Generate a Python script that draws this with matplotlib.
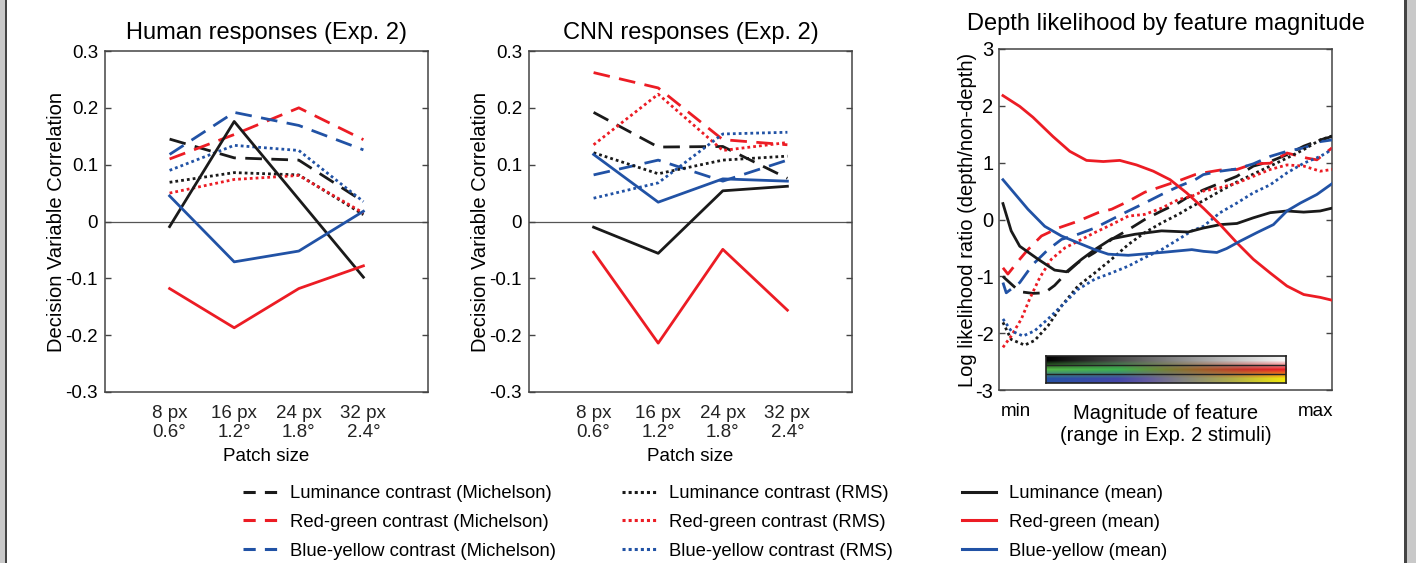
import numpy as np
import matplotlib
matplotlib.use("Agg")
import matplotlib.pyplot as plt
from matplotlib.lines import Line2D
from matplotlib.patches import Rectangle

plt.rcParams['font.family'] = ['Liberation Sans', 'DejaVu Sans']
plt.rcParams['axes.unicode_minus'] = False

# ---------------- data ----------------
patch_pos = [1, 2, 3, 4]
patch_labels = ["8 px\n0.6°", "16 px\n1.2°", "24 px\n1.8°", "32 px\n2.4°"]

# Human responses (Exp. 2)
human_lum_mich = [0.145, 0.112, 0.108, 0.035]
human_rg_mich = [0.110, 0.153, 0.200, 0.144]
human_by_mich = [0.118, 0.192, 0.169, 0.126]
human_lum_rms = [0.069, 0.086, 0.082, 0.012]
human_rg_rms = [0.050, 0.074, 0.081, 0.015]
human_by_rms = [0.090, 0.134, 0.125, 0.035]
human_lum_mean = [-0.009, 0.176, 0.039, -0.098]
human_rg_mean = [-0.118, -0.187, -0.118, -0.078]
human_by_mean = [0.045, -0.071, -0.052, 0.018]

# CNN responses (Exp. 2)
cnn_lum_mich = [0.192, 0.131, 0.132, 0.076]
cnn_rg_mich = [0.262, 0.235, 0.144, 0.135]
cnn_by_mich = [0.082, 0.108, 0.071, 0.108]
cnn_lum_rms = [0.121, 0.084, 0.108, 0.115]
cnn_rg_rms = [0.135, 0.224, 0.125, 0.139]
cnn_by_rms = [0.041, 0.068, 0.154, 0.157]
cnn_lum_mean = [-0.010, -0.056, 0.054, 0.062]
cnn_rg_mean = [-0.054, -0.214, -0.049, -0.156]
cnn_by_mean = [0.118, 0.034, 0.075, 0.071]

# Depth likelihood by feature magnitude (x: % of magnitude range)
lr_lum_mean_x = [0, 2.5, 5.1, 10.7, 15.7, 19.3, 23.9, 27.9, 33.0, 40.1, 48.2, 56.3, 60.9, 66.0, 71.1, 76.1, 81.2, 86.3, 91.4, 96.4, 100]
lr_lum_mean_y = [0.28, -0.20, -0.47, -0.70, -0.89, -0.92, -0.70, -0.53, -0.34, -0.26, -0.20, -0.22, -0.15, -0.09, -0.07, 0.03, 0.12, 0.15, 0.13, 0.15, 0.20]
lr_rg_mean_x = [0, 5.1, 9.1, 15.2, 20.3, 25.4, 30.5, 35.5, 40.6, 45.7, 50.8, 55.8, 60.9, 66.0, 71.1, 76.1, 81.2, 86.3, 91.4, 96.4, 100]
lr_rg_mean_y = [2.18, 1.99, 1.80, 1.46, 1.20, 1.04, 1.02, 1.04, 0.96, 0.85, 0.70, 0.47, 0.20, -0.09, -0.41, -0.70, -0.94, -1.17, -1.32, -1.37, -1.42]
lr_by_mean_x = [0, 7.6, 12.7, 17.8, 22.8, 27.9, 32.0, 38.1, 48.2, 57.4, 60.9, 65.0, 68.0, 72.1, 77.2, 82.2, 86.3, 90.4, 95.4, 100]
lr_by_mean_y = [0.70, 0.18, -0.12, -0.29, -0.41, -0.53, -0.61, -0.63, -0.58, -0.53, -0.56, -0.58, -0.51, -0.38, -0.23, -0.09, 0.15, 0.29, 0.44, 0.63]

lr_lum_mich_x = [0, 0.5, 5.1, 9.1, 12.7, 15.7, 19.3, 22.8, 27.9, 33.0, 38.1, 43.1, 48.2, 53.3, 55.8, 60.9, 66.0, 71.1, 76.1, 81.2, 86.3, 91.4, 96.4, 100]
lr_lum_mich_y = [-1.00, -1.03, -1.27, -1.30, -1.29, -1.16, -0.94, -0.76, -0.58, -0.35, -0.18, 0.0, 0.15, 0.29, 0.38, 0.52, 0.64, 0.76, 0.94, 1.02, 1.14, 1.29, 1.40, 1.46]
lr_rg_mich_x = [0, 1.5, 5.1, 7.6, 11.7, 16.8, 22.8, 28.9, 33.0, 38.1, 43.1, 48.2, 54.3, 58.4, 60.9, 66.0, 71.1, 76.1, 81.2, 86.3, 92.4, 95.4, 100]
lr_rg_mich_y = [-0.85, -0.96, -0.70, -0.53, -0.29, -0.15, -0.03, 0.12, 0.18, 0.32, 0.48, 0.58, 0.70, 0.79, 0.82, 0.87, 0.88, 0.98, 0.99, 1.17, 1.08, 1.05, 1.26]
lr_by_mich_x = [0, 1.0, 5.1, 9.1, 13.7, 17.8, 22.8, 27.9, 33.0, 38.1, 43.1, 48.2, 53.3, 58.4, 60.9, 66.0, 71.1, 76.1, 81.2, 86.3, 91.4, 96.4, 100]
lr_by_mich_y = [-1.11, -1.29, -1.11, -0.79, -0.53, -0.35, -0.26, -0.15, 0.0, 0.15, 0.29, 0.44, 0.58, 0.70, 0.79, 0.85, 0.89, 0.98, 1.11, 1.20, 1.26, 1.37, 1.40]

lr_lum_rms_x = [0, 2.5, 6.6, 9.6, 13.7, 17.8, 22.8, 27.9, 33.0, 38.1, 43.1, 48.2, 53.3, 57.4, 60.9, 66.0, 71.1, 76.1, 81.2, 86.3, 91.4, 96.4, 100]
lr_lum_rms_y = [-1.81, -2.11, -2.21, -2.13, -1.87, -1.52, -1.17, -0.94, -0.70, -0.44, -0.23, -0.06, 0.09, 0.23, 0.33, 0.50, 0.66, 0.80, 0.94, 1.08, 1.23, 1.40, 1.47]
lr_rg_rms_x = [0, 2.5, 5.6, 8.1, 11.2, 14.7, 18.8, 23.9, 27.9, 33.0, 38.1, 43.1, 48.2, 53.3, 57.4, 60.9, 66.0, 71.1, 76.1, 81.2, 86.3, 91.4, 96.4, 100]
lr_rg_rms_y = [-2.25, -2.05, -1.75, -1.40, -1.02, -0.70, -0.50, -0.35, -0.23, -0.09, 0.06, 0.09, 0.20, 0.35, 0.41, 0.50, 0.56, 0.64, 0.76, 0.88, 0.96, 0.94, 0.85, 0.88]
lr_by_rms_x = [0, 2.5, 6.1, 9.6, 13.7, 17.8, 22.8, 27.9, 33.0, 38.1, 43.1, 48.2, 53.3, 57.4, 60.9, 66.0, 71.1, 76.1, 81.2, 86.3, 91.4, 96.4, 100]
lr_by_rms_y = [-1.75, -1.96, -2.05, -1.96, -1.75, -1.52, -1.23, -1.05, -0.94, -0.82, -0.67, -0.53, -0.35, -0.20, -0.12, 0.12, 0.29, 0.47, 0.61, 0.82, 0.99, 1.11, 1.23]

legend_labels = [
    "Luminance contrast (Michelson)", "Red-green contrast (Michelson)", "Blue-yellow contrast (Michelson)",
    "Luminance contrast (RMS)", "Red-green contrast (RMS)", "Blue-yellow contrast (RMS)",
    "Luminance (mean)", "Red-green (mean)", "Blue-yellow (mean)",
]

# ---------------- styles ----------------
BLACK = '#1a1a1a'
RED = '#ec1c24'
BLUE = '#2152a5'
DASH = (0, (6, 3.4))
DOT = (0, (1, 1.1))
LW = 2.0
FRAME = '#444444'

W, H = 1416, 563
fig = plt.figure(figsize=(W / 100, H / 100), dpi=100)

def px_axes(x0, y0, x1, y1):
    return fig.add_axes([x0 / W, 1 - y1 / H, (x1 - x0) / W, (y1 - y0) / H])

def style_box(ax):
    for s in ax.spines.values():
        s.set_color(FRAME)
        s.set_linewidth(1.1)
    ax.tick_params(axis='y', direction='in', length=4, width=1, color=FRAME,
                   left=True, right=True, labelsize=13.5, pad=5)

def corr_panel(ax, data, title):
    lm, rm, bm, lr, rr, br, lme, rme, bme = data
    ax.axhline(0, color='#555555', lw=0.9, zorder=1)
    for vals, c, ls in [(lm, BLACK, DASH), (rm, RED, DASH), (bm, BLUE, DASH),
                        (lr, BLACK, DOT), (rr, RED, DOT), (br, BLUE, DOT),
                        (lme, BLACK, '-'), (rme, RED, '-'), (bme, BLUE, '-')]:
        ax.plot(patch_pos, vals, color=c, ls=ls, lw=LW, zorder=3)
    ax.set_xlim(0, 5)
    ax.set_ylim(-0.3, 0.3)
    ax.set_yticks([-0.3, -0.2, -0.1, 0, 0.1, 0.2, 0.3])
    ax.set_yticklabels(["-0.3", "-0.2", "-0.1", "0", "0.1", "0.2", "0.3"])
    ax.set_xticks(patch_pos)
    ax.set_xticklabels(patch_labels, fontsize=13.5, color='#222222')
    ax.tick_params(axis='x', length=0, pad=9)
    style_box(ax)
    ax.set_xlabel("Patch size", fontsize=13.5, labelpad=5)
    ax.set_ylabel("Decision Variable Correlation", fontsize=14.5)
    ax.yaxis.set_label_coords(-0.12, 0.5)
    ax.set_title(title, fontsize=17, pad=9)

ax1 = px_axes(105, 51, 428, 392)
corr_panel(ax1, [human_lum_mich, human_rg_mich, human_by_mich,
                 human_lum_rms, human_rg_rms, human_by_rms,
                 human_lum_mean, human_rg_mean, human_by_mean],
           "Human responses (Exp. 2)")

ax2 = px_axes(529, 51, 852, 392)
corr_panel(ax2, [cnn_lum_mich, cnn_rg_mich, cnn_by_mich,
                 cnn_lum_rms, cnn_rg_rms, cnn_by_rms,
                 cnn_lum_mean, cnn_rg_mean, cnn_by_mean],
           "CNN responses (Exp. 2)")

# right panel
ax3 = px_axes(999, 49, 1332, 390)
for xs, ys, c, ls in [
        (lr_lum_mich_x, lr_lum_mich_y, BLACK, DASH), (lr_rg_mich_x, lr_rg_mich_y, RED, DASH),
        (lr_by_mich_x, lr_by_mich_y, BLUE, DASH),
        (lr_lum_rms_x, lr_lum_rms_y, BLACK, DOT), (lr_rg_rms_x, lr_rg_rms_y, RED, DOT),
        (lr_by_rms_x, lr_by_rms_y, BLUE, DOT),
        (lr_lum_mean_x, lr_lum_mean_y, BLACK, '-'), (lr_rg_mean_x, lr_rg_mean_y, RED, '-'),
        (lr_by_mean_x, lr_by_mean_y, BLUE, '-')]:
    ax3.plot(xs, ys, color=c, ls=ls, lw=LW, zorder=3)
ax3.set_xlim(-1.2, 100)
ax3.set_ylim(-3, 3)
ax3.set_yticks([-3, -2, -1, 0, 1, 2, 3])
ax3.set_yticklabels(["-3", "-2", "-1", "0", "1", "2", "3"])
style_box(ax3)
ax3.tick_params(axis='y', labelsize=14.5, pad=4)
ax3.set_xticks([4, 95])
ax3.set_xticklabels(["min", "max"], fontsize=13.5)
ax3.tick_params(axis='x', length=0, pad=9)
ax3.set_xlabel("Magnitude of feature\n(range in Exp. 2 stimuli)", fontsize=14.5, linespacing=1.25)
ax3.xaxis.set_label_coords(0.5, -0.04)
ax3.set_ylabel("Log likelihood ratio (depth/non-depth)", fontsize=14.5)
ax3.yaxis.set_label_coords(-0.066, 0.5)
ax3.set_title("Depth likelihood by feature magnitude", fontsize=17, pad=14)

# colour key inset
cb = ax3.inset_axes([0.141, 0.0205, 0.721, 0.079])
n = 256
t = np.linspace(0, 1, n)
def grad(stops):
    pos = [s[0] for s in stops]
    cols = np.array([s[1] for s in stops]) / 255.0
    return np.stack([np.interp(t, pos, cols[:, k]) for k in range(3)], axis=-1)
row_lum = grad([(0, (0, 0, 0)), (1, (250, 250, 250))])
row_rg = grad([(0, (85, 185, 72)), (0.3, (60, 180, 78)), (0.5, (118, 128, 52)),
               (0.65, (160, 92, 40)), (0.82, (200, 48, 40)), (1, (236, 30, 38))])
row_by = grad([(0, (38, 82, 165)), (0.3, (68, 70, 168)), (0.42, (98, 90, 160)),
               (0.57, (130, 130, 128)), (0.77, (175, 172, 72)), (1, (242, 234, 10))])
img = np.stack([row_lum, row_rg, row_by], axis=0)
cb.imshow(img, aspect='auto', interpolation='bilinear', extent=[0, 1, 3, 0])
for yy in [1, 2]:
    cb.axhline(yy, color='#222222', lw=1.0)
cb.set_xticks([])
cb.set_yticks([])
for s in cb.spines.values():
    s.set_color('#222222')
    s.set_linewidth(1.2)

# legends
colors9 = [BLACK, RED, BLUE] * 3
leg_styles = [(0, (4, 3))] * 3 + [(0, (1, 1))] * 3 + ['-'] * 3
handles = [Line2D([], [], color=c, ls=ls, lw=2.2) for c, ls in zip(colors9, leg_styles)]
col_x = [243, 622, 962]
for k in range(3):
    fig.legend(handles[3 * k:3 * k + 3], legend_labels[3 * k:3 * k + 3],
               loc='upper left', bbox_to_anchor=(col_x[k] / W, 1 - 485 / H),
               frameon=False, fontsize=13.3, handlelength=1.85, handletextpad=0.7,
               labelspacing=0.64, borderpad=0, borderaxespad=0)

# figure side borders
fig.add_artist(Rectangle((0, 0), 4.6 / W, 1, transform=fig.transFigure, color='#c9c9c9', lw=0))
fig.add_artist(Rectangle((4.6 / W, 0), 2.6 / W, 1, transform=fig.transFigure, color='#444444', lw=0))
fig.add_artist(Rectangle((1404 / W, 0), 2.6 / W, 1, transform=fig.transFigure, color='#444444', lw=0))
fig.add_artist(Rectangle((1406.6 / W, 0), 9.4 / W, 1, transform=fig.transFigure, color='#c9c9c9', lw=0))

fig.savefig("out.png", dpi=100)
